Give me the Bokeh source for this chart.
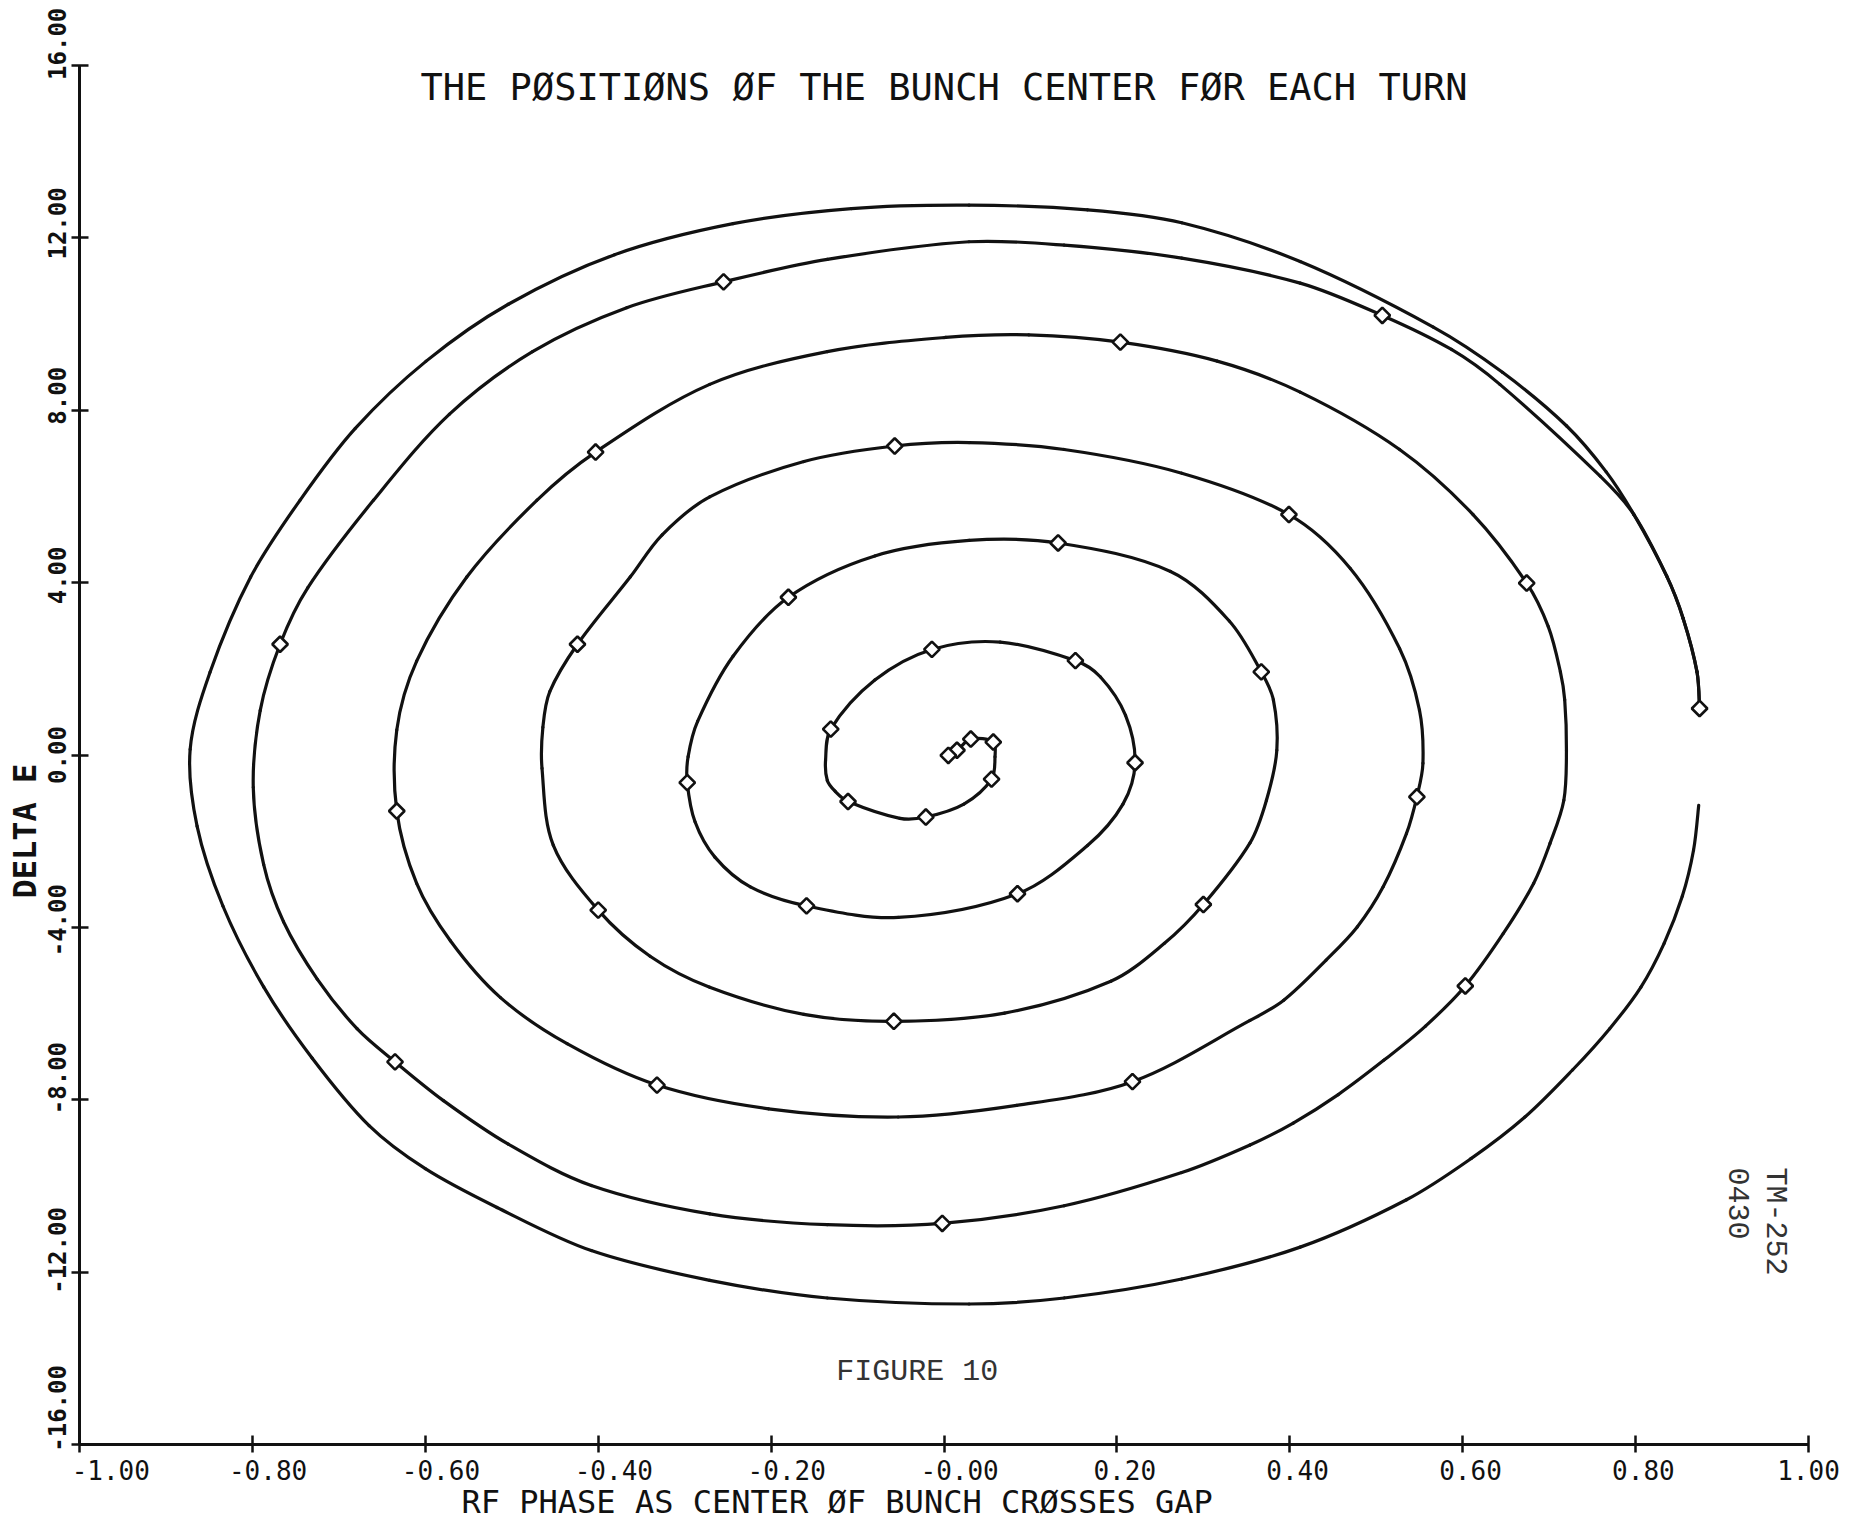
from bokeh.plotting import figure
from bokeh.models import Range1d, FixedTicker, Label, Title
from bokeh.embed import file_html
from bokeh.resources import INLINE
import math

# ---- data (RF phase, delta E) ----
# spiral traced from the first turn (right) inwards to the centre
spiral_x = [0.874, 0.871, 0.855, 0.836, 0.798, 0.759, 0.643, 0.587, 0.507, 0.412,
            0.275, 0.139, 0.029, -0.135, -0.255, -0.367, -0.476, -0.572, -0.660, -0.736,
            -0.768, -0.791, -0.799, -0.787, -0.764, -0.725, -0.679, -0.635, -0.579, -0.504,
            -0.408, -0.271, -0.135, -0.002, 0.139, 0.275, 0.354, 0.404, 0.456, 0.509,
            0.557, 0.603, 0.647, 0.682, 0.701, 0.717, 0.720, 0.718, 0.713, 0.699,
            0.674, 0.612, 0.527, 0.412, 0.316, 0.204, 0.098, 0.002, -0.135, -0.271,
            -0.403, -0.471, -0.552, -0.610, -0.633, -0.633, -0.610, -0.571, -0.513, -0.436,
            -0.332, -0.203, -0.053, 0.084, 0.218, 0.354, 0.393, 0.442, 0.478, 0.508,
            0.535, 0.547, 0.554, 0.550, 0.527, 0.470, 0.399, 0.275, 0.139, 0.029,
            -0.057, -0.162, -0.271, -0.326, -0.363, -0.424, -0.456, -0.464, -0.465, -0.452,
            -0.400, -0.340, -0.271, -0.162, -0.058, 0.070, 0.193, 0.255, 0.300, 0.354,
            0.373, 0.385, 0.381, 0.367, 0.330, 0.262, 0.132, 0.029, -0.080, -0.180,
            -0.244, -0.285, -0.296, -0.297, -0.288, -0.265, -0.224, -0.159, -0.053, 0.085,
            0.166, 0.207, 0.221, 0.210, 0.181, 0.152, 0.065, -0.014, -0.080, -0.131,
            -0.137, -0.135, -0.126, -0.111, -0.051, -0.021, 0.023, 0.055, 0.059, 0.057,
            0.031, 0.015, 0.005]
spiral_y = [1.08, 1.93, 3.17, 4.15, 5.58, 6.47, 8.60, 9.41, 10.20, 10.95,
            11.53, 11.83, 11.91, 11.50, 10.98, 10.38, 9.36, 7.91, 5.91, 3.88,
            2.57, 1.03, -0.75, -2.54, -3.87, -5.20, -6.35, -7.12, -8.02, -9.03,
            -9.99, -10.65, -10.90, -10.87, -10.46, -9.69, -9.05, -8.54, -7.88, -7.08,
            -6.29, -5.36, -4.14, -2.98, -2.05, -1.05, 0.11, 1.28, 1.93, 2.98,
            3.99, 5.58, 7.09, 8.42, 9.14, 9.58, 9.75, 9.69, 9.36, 8.60,
            7.03, 5.91, 4.13, 2.18, 0.58, -1.30, -2.98, -4.31, -5.63, -6.70,
            -7.66, -8.21, -8.40, -8.13, -7.58, -6.16, -5.69, -4.76, -3.99, -3.06,
            -1.82, -0.97, -0.19, 1.04, 2.47, 4.33, 5.58, 6.54, 7.09, 7.25,
            7.17, 6.81, 5.99, 5.11, 4.13, 2.57, 1.47, 0.64, -0.31, -2.09,
            -3.60, -4.67, -5.39, -6.02, -6.18, -5.99, -5.25, -4.37, -3.47, -2.04,
            -1.05, 0.11, 1.28, 1.93, 3.11, 4.26, 4.92, 4.98, 4.62, 3.66,
            2.29, 0.78, -0.04, -0.64, -1.55, -2.37, -3.06, -3.50, -3.77, -3.22,
            -2.10, -1.14, -0.18, 0.92, 1.81, 2.19, 2.62, 2.45, 1.74, 0.60,
            -0.12, -0.59, -0.84, -1.08, -1.47, -1.44, -1.14, -0.56, -0.04, 0.30,
            0.37, 0.11, -0.01]

# outer curve (no markers), from its free end at the right, clockwise,
# up to where it joins the spiral near the first turn
outer_x = [0.873, 0.867, 0.854, 0.833, 0.806, 0.770, 0.727, 0.672, 0.610, 0.535,
           0.412, 0.275, 0.139, 0.029, -0.135, -0.271, -0.408, -0.517, -0.600, -0.665,
           -0.731, -0.787, -0.834, -0.864, -0.872, -0.849, -0.802, -0.745, -0.681, -0.599,
           -0.504, -0.381, -0.244, -0.107, 0.029, 0.166, 0.275, 0.412, 0.566, 0.646,
           0.720, 0.766, 0.798]
outer_y = [-1.17, -2.21, -3.28, -4.37, -5.39, -6.35, -7.31, -8.40, -9.36, -10.32,
           -11.42, -12.16, -12.60, -12.74, -12.60, -12.19, -11.50, -10.50, -9.60, -8.60,
           -7.03, -5.38, -3.51, -1.65, 0.13, 1.92, 4.13, 5.91, 7.58, 9.14,
           10.46, 11.61, 12.33, 12.68, 12.76, 12.65, 12.35, 11.45, 9.93, 8.88,
           7.64, 6.57, 5.58]

# bunch centre at each turn (diamond markers)
turn_x = [0.874, 0.507, -0.255, -0.768, -0.635, -0.002, 0.603, 0.674, 0.204, -0.403,
          -0.633, -0.332, 0.218, 0.547, 0.399, -0.057, -0.424, -0.400, -0.058, 0.300,
          0.367, 0.132, -0.180, -0.297, -0.159, 0.085, 0.221, 0.152, -0.014, -0.131,
          -0.111, -0.021, 0.055, 0.057, 0.031, 0.015, 0.005]
turn_y = [1.08, 10.20, 10.98, 2.57, -7.12, -10.87, -5.36, 3.99, 9.58, 7.03,
          -1.30, -7.66, -7.58, -0.97, 5.58, 7.17, 2.57, -3.60, -6.18, -3.47,
          1.93, 4.92, 3.66, -0.64, -3.50, -3.22, -0.18, 2.19, 2.45, 0.60,
          -1.08, -1.44, -0.56, 0.30, 0.37, 0.11, -0.01]

x_ticks = [-1.0, -0.8, -0.6, -0.4, -0.2, 0.0, 0.2, 0.4, 0.6, 0.8, 1.0]
x_tick_labels = ["-1.00", "-0.80", "-0.60", "-0.40", "-0.20", "-0.00",
                 "0.20", "0.40", "0.60", "0.80", "1.00"]
y_ticks = [-16, -12, -8, -4, 0, 4, 8, 12, 16]
y_tick_labels = ["-16.00", "-12.00", "-8.00", "-4.00", "0.00",
                 "4.00", "8.00", "12.00", "16.00"]

assert len(spiral_x) == len(spiral_y) and len(outer_x) == len(outer_y)
assert len(turn_x) == len(turn_y)

MONO = "DejaVu Sans Mono"
INK = "#111111"
NB = "\u00a0"
# the plotter wrote its labels a little off-centre from the ticks
x_label_shift = [4, 2, 2, 2, 2, 2, 1, 1, 1, 1, 0]
y_label_shift = [5, 3, 3, 1, 0, 1, 2, 2, 3]


def bezier_segments(xs, ys, aspect):
    """Cubic Bezier pieces through the read points (smooth pen-plotter curve).
    Control points come from neighbouring points; distances are measured in
    screen-like units (y scaled by `aspect`)."""
    n = len(xs)
    d = [math.hypot(xs[i + 1] - xs[i], (ys[i + 1] - ys[i]) * aspect) or 1e-9
         for i in range(n - 1)]
    out = {k: [] for k in ("x0", "y0", "x1", "y1", "cx0", "cy0", "cx1", "cy1")}
    for i in range(n - 1):
        ip, inx = max(i - 1, 0), min(i + 2, n - 1)
        dp = d[i - 1] if i > 0 else d[i]
        dn = d[i + 1] if i + 1 < n - 1 else d[i]
        f1 = d[i] / (3 * (dp + d[i]))
        f2 = d[i] / (3 * (d[i] + dn))
        out["x0"].append(xs[i]); out["y0"].append(ys[i])
        out["x1"].append(xs[i + 1]); out["y1"].append(ys[i + 1])
        out["cx0"].append(xs[i] + (xs[i + 1] - xs[ip]) * f1)
        out["cy0"].append(ys[i] + (ys[i + 1] - ys[ip]) * f1)
        out["cx1"].append(xs[i + 1] - (xs[inx] - xs[i]) * f2)
        out["cy1"].append(ys[i + 1] - (ys[inx] - ys[i]) * f2)
    return out


p = figure(width=1852, height=1526, x_range=Range1d(-1, 1), y_range=Range1d(-16, 16),
           output_backend="svg", toolbar_location=None,
           min_border_left=79, min_border_right=44, min_border_top=65, min_border_bottom=82)
p.grid.visible = False
p.outline_line_color = None
p.background_fill_color = "white"
p.border_fill_color = "white"

for ax in (p.xaxis, p.yaxis):
    ax.axis_line_width = 3
    ax.axis_line_color = INK
    ax.major_tick_line_width = 2.5
    ax.major_tick_line_color = INK
    ax.major_tick_in = 9
    ax.major_tick_out = 8
    ax.minor_tick_line_color = None
    ax.major_label_text_font = MONO
    ax.major_label_text_color = INK

p.xaxis.ticker = FixedTicker(ticks=x_ticks)
p.xaxis.major_label_overrides = {t: NB * n + s for t, s, n in
                                 zip(x_ticks, x_tick_labels, x_label_shift)}
p.xaxis.major_label_text_font_size = "26px"
p.xaxis.major_label_standoff = 3

p.yaxis.ticker = FixedTicker(ticks=y_ticks)
p.yaxis.major_label_overrides = {t: NB * n + s for t, s, n in
                                 zip(y_ticks, y_tick_labels, y_label_shift)}
p.yaxis.major_label_text_font_size = "24px"
p.yaxis.major_label_text_font_style = "bold"
p.yaxis.major_label_orientation = "vertical"
p.yaxis.major_label_standoff = 0

# screen aspect: pixels per y unit / pixels per x unit
ASPECT = (1379 / 32) / (1729 / 2)

outer_path_x = outer_x + spiral_x[3::-1]
outer_path_y = outer_y + spiral_y[3::-1]
for xs, ys in ((outer_path_x, outer_path_y), (spiral_x, spiral_y)):
    seg = bezier_segments(xs, ys, ASPECT)
    p.bezier(line_color=INK, line_width=3.2, line_cap="round", **seg)

p.scatter(turn_x, turn_y, marker="square", angle=math.pi / 4, size=11,
          fill_color="white", line_color=INK, line_width=2.6)

p.add_layout(Title(text="RF PHASE AS CENTER ØF BUNCH CRØSSES GAP", align="left", offset=382,
                   vertical_align="middle", standoff=-14, text_font=MONO,
                   text_font_size="32px", text_font_style="normal", text_color=INK), "below")
p.add_layout(Title(text="DELTA E", align="left", offset=546, vertical_align="middle",
                   standoff=-8, text_font=MONO, text_font_size="32px",
                   text_font_style="bold", text_color=INK), "left")

p.add_layout(Label(x=0.0, y=15.49, text="THE PØSITIØNS ØF THE BUNCH CENTER FØR EACH TURN",
                   text_font=MONO, text_font_size="37px", text_color=INK,
                   text_align="center", text_baseline="middle"))
p.add_layout(Label(x=-0.031, y=-14.31, text="FIGURE 10",
                   text_font="Liberation Mono", text_font_size="30px", text_color="#333333",
                   text_align="center", text_baseline="middle"))
p.add_layout(Label(x=0.961, y=-9.57, text="TM-252", angle=-math.pi / 2,
                   text_font="Liberation Mono", text_font_size="30px", text_color="#333333",
                   text_align="left", text_baseline="middle"))
p.add_layout(Label(x=0.920, y=-9.57, text="0430", angle=-math.pi / 2,
                   text_font="Liberation Mono", text_font_size="30px", text_color="#333333",
                   text_align="left", text_baseline="middle"))

open("out.html", "w").write(file_html(p, INLINE))
